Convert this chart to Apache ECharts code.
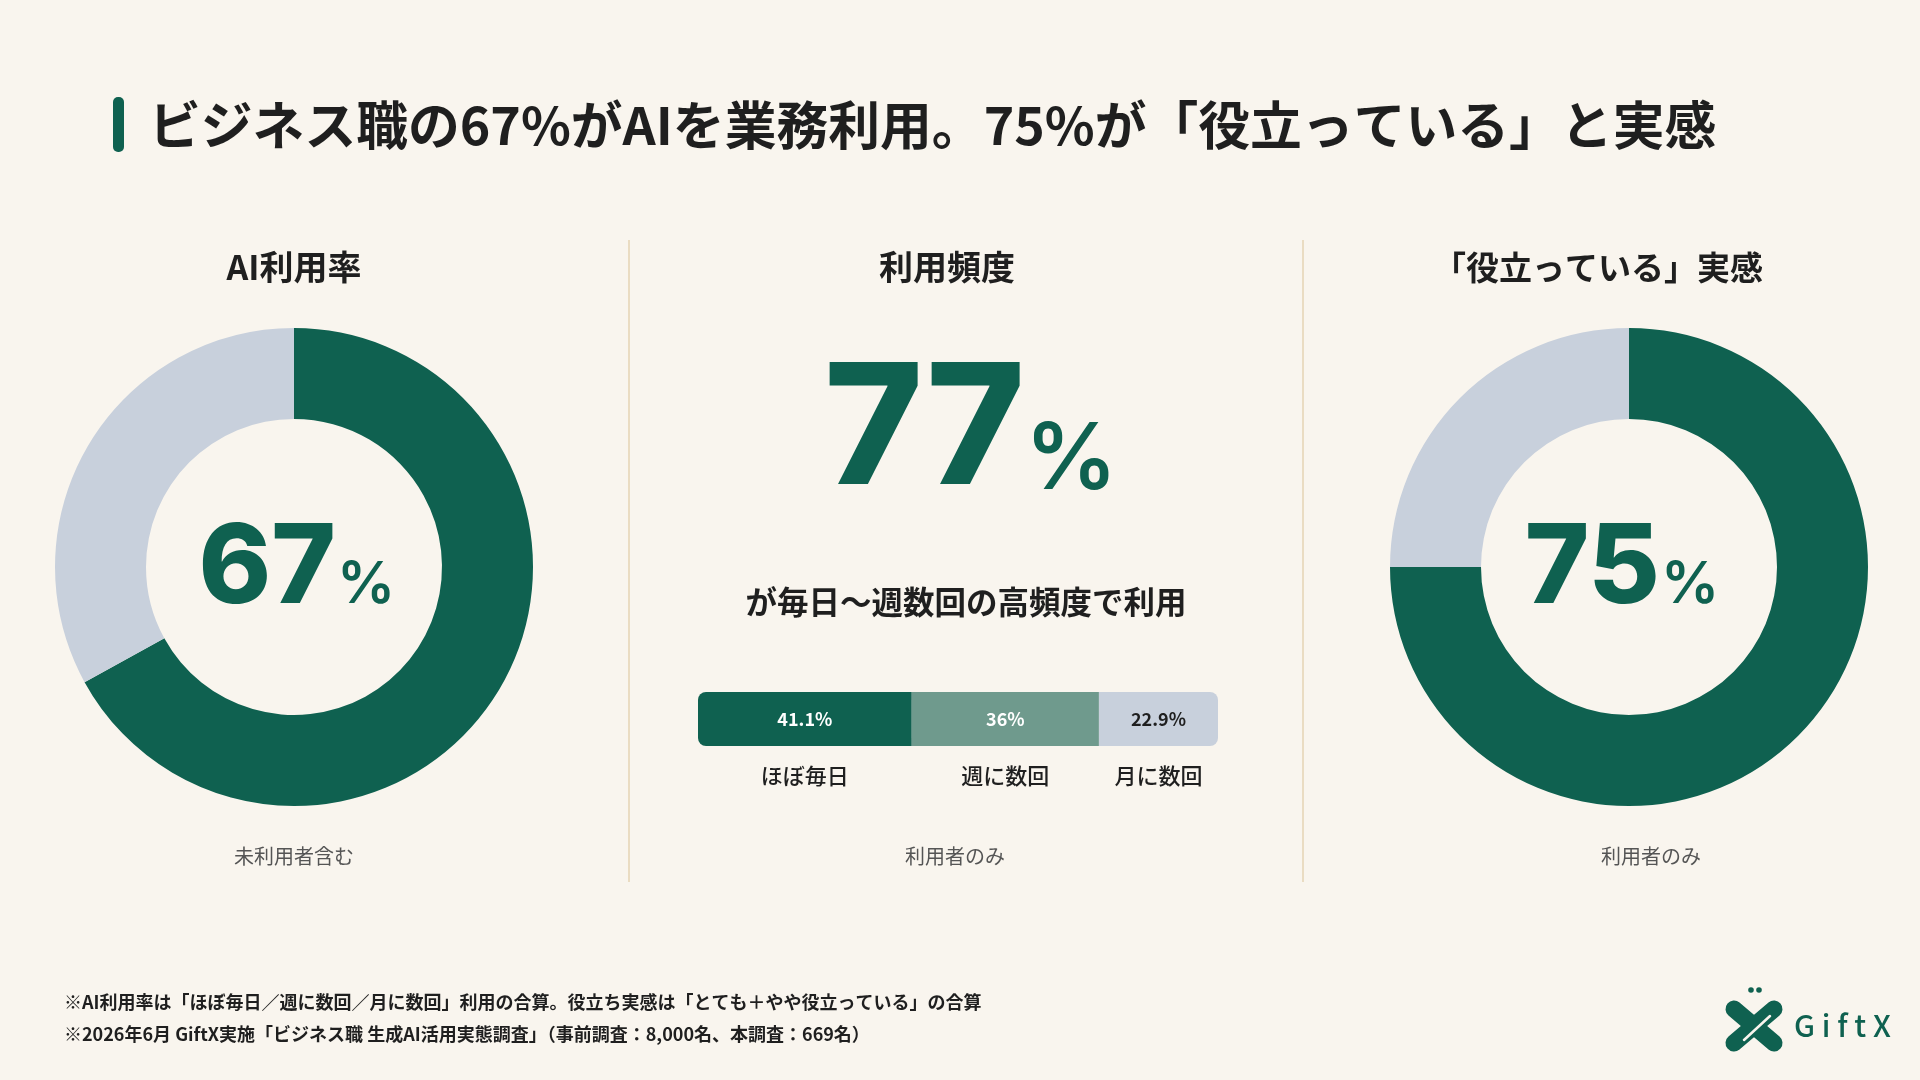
<!DOCTYPE html>
<html><head><meta charset="utf-8">
<script src="https://cdn.jsdelivr.net/npm/echarts@6/dist/echarts.min.js"></script>
<style>html,body{margin:0;padding:0;background:#f9f5ee}#c{width:1920px;height:1080px}</style>
</head><body><div id="c"></div>
<script>
// ---- data ----
const pageTitle = 'ビジネス職の67%がAIを業務利用。75%が「役立っている」と実感';
const panelTitles = ['AI利用率', '利用頻度', '「役立っている」実感'];
const panelNotes = ['未利用者含む', '利用者のみ', '利用者のみ'];
const usageNames = ['利用', '未利用'];
const usageValues = [67, 33];
const helpfulNames = ['役立っている', 'その他'];
const helpfulValues = [75, 25];
const highFreqValue = 77;
const highFreqText = 'が毎日〜週数回の高頻度で利用';
const freqCategories = ['ほぼ毎日', '週に数回', '月に数回'];
const freqValues = [41.1, 36, 22.9];
const footnotes = [
  '※AI利用率は「ほぼ毎日／週に数回／月に数回」利用の合算。役立ち実感は「とても＋やや役立っている」の合算',
  '※2026年6月 GiftX実施「ビジネス職 生成AI活用実態調査」（事前調査：8,000名、本調査：669名）'
];
const brandName = 'GiftX';

// ---- styles ----
const BG = '#f9f5ee';
const DARK = '#0f6150';
const MID = '#6f9a8d';
const LIGHT = '#c8d0dc';
const INK = '#1f1f1f';
const JP = '"Noto Sans CJK JP", "Noto Sans", sans-serif';
const NUM = 'Inter, "Noto Sans CJK JP", sans-serif';

const chart = echarts.init(document.getElementById('c'), null, {renderer: 'canvas'});

function donut(center, names, values) {
  return {
    type: 'pie', center: center, radius: [148, 239], startAngle: 90, clockwise: true,
    silent: true, animation: false, label: {show: false}, labelLine: {show: false},
    emphasis: {disabled: true},
    data: values.map((v, i) => ({value: v, name: names[i], itemStyle: {color: i === 0 ? DARK : LIGHT}}))
  };
}

const segColors = [DARK, MID, LIGHT];
const segText = ['#ffffff', '#ffffff', INK];
const n = freqValues.length;
const barSeries = freqValues.map((v, i) => ({
  type: 'bar', name: freqCategories[i], stack: 'f', xAxisIndex: 0, yAxisIndex: 0,
  barWidth: 54, silent: true, animation: false,
  data: [v],
  itemStyle: {color: segColors[i], borderRadius: i === 0 ? [8, 0, 0, 8] : (i === n - 1 ? [0, 8, 8, 0] : 0)},
  label: {show: true, position: 'inside', formatter: v + '%', color: segText[i],
          fontFamily: JP, fontWeight: 'bold', fontSize: 18}
}));
const catSeries = freqValues.map((v, i) => ({
  type: 'bar', name: freqCategories[i], stack: 'g', xAxisIndex: 1, yAxisIndex: 1,
  barWidth: 36, silent: true, animation: false,
  data: [v],
  itemStyle: {color: 'rgba(0,0,0,0)'},
  label: {show: true, position: 'inside', formatter: freqCategories[i], color: INK,
          fontFamily: JP, fontWeight: 500, fontSize: 22}
}));

// big value: number right-aligned at nx, "%" left-aligned at px
function bigNumber(value, nx, ny, numSize, px, py, pctSize) {
  return [
    {type: 'text', x: nx, y: ny, style: {text: String(value), fill: DARK,
      font: '800 ' + numSize + 'px ' + NUM, textAlign: 'right', textVerticalAlign: 'middle'}},
    {type: 'text', x: px, y: py, style: {text: '%', fill: DARK,
      font: '600 ' + pctSize + 'px ' + NUM, textAlign: 'left', textVerticalAlign: 'middle'}}
  ];
}

const panelX = [294, 947, 1598];
const panelSize = [34, 34, 33];
const noteX = [294, 955, 1651];

const graphic = [
  {type: 'rect', shape: {x: 113, y: 97, width: 11, height: 55, r: 5}, style: {fill: DARK}},
  {type: 'text', x: 149, y: 125, style: {text: pageTitle, fill: INK, font: 'bold 51.8px ' + JP,
    textAlign: 'left', textVerticalAlign: 'middle'}},
  {type: 'line', shape: {x1: 629, y1: 240, x2: 629, y2: 882}, style: {stroke: '#eadcc2', lineWidth: 2}},
  {type: 'line', shape: {x1: 1303, y1: 240, x2: 1303, y2: 882}, style: {stroke: '#eadcc2', lineWidth: 2}},
  {type: 'text', x: 966, y: 602, style: {text: highFreqText, fill: INK, font: 'bold 31.5px ' + JP,
    textAlign: 'center', textVerticalAlign: 'middle'}},
  ...bigNumber(usageValues[0], 336, 570, 110, 337, 586, 58),
  ...bigNumber(helpfulValues[0], 1660, 570, 110, 1661, 586, 58),
  ...bigNumber(highFreqValue, 1025, 433, 168, 1025, 461, 92),
  // logo
  {type: 'line', shape: {x1: 1734, y1: 1009, x2: 1774, y2: 1043}, style: {stroke: DARK, lineWidth: 17, lineCap: 'round'}},
  {type: 'line', shape: {x1: 1774, y1: 1009, x2: 1734, y2: 1043}, style: {stroke: DARK, lineWidth: 17, lineCap: 'round'}},
  {type: 'line', shape: {x1: 1770, y1: 1016, x2: 1744, y2: 1040}, style: {stroke: BG, lineWidth: 2.5, lineCap: 'round'}},
  {type: 'circle', shape: {cx: 1751, cy: 990, r: 2.8}, style: {fill: DARK}},
  {type: 'circle', shape: {cx: 1759, cy: 990, r: 2.8}, style: {fill: DARK}},
  {type: 'text', x: 1794, y: 1026, style: {text: brandName.split('').join(' '), fill: DARK, font: '500 30px ' + JP,
    textAlign: 'left', textVerticalAlign: 'middle'}}
];
panelTitles.forEach((t, i) => graphic.push({type: 'text', x: panelX[i], y: 267,
  style: {text: t, fill: INK, font: 'bold ' + panelSize[i] + 'px ' + JP, textAlign: 'center', textVerticalAlign: 'middle'}}));
panelNotes.forEach((t, i) => graphic.push({type: 'text', x: noteX[i], y: 856,
  style: {text: t, fill: '#555555', font: '20px ' + JP, textAlign: 'center', textVerticalAlign: 'middle'}}));
footnotes.forEach((t, i) => graphic.push({type: 'text', x: 64, y: 1002 + i * 32,
  style: {text: t, fill: INK, font: 'bold 18px ' + JP, textAlign: 'left', textVerticalAlign: 'middle'}}));

chart.setOption({
  backgroundColor: BG,
  animation: false,
  grid: [
    {left: 698, top: 692, width: 520, height: 54},
    {left: 698, top: 758, width: 520, height: 36}
  ],
  xAxis: [
    {type: 'value', min: 0, max: 100, show: false, gridIndex: 0},
    {type: 'value', min: 0, max: 100, show: false, gridIndex: 1}
  ],
  yAxis: [
    {type: 'category', data: ['頻度'], show: false, gridIndex: 0},
    {type: 'category', data: ['頻度'], show: false, gridIndex: 1}
  ],
  series: [
    donut([294, 567], usageNames, usageValues),
    donut([1629, 567], helpfulNames, helpfulValues),
    ...barSeries,
    ...catSeries
  ],
  graphic: graphic
});
</script></body></html>
